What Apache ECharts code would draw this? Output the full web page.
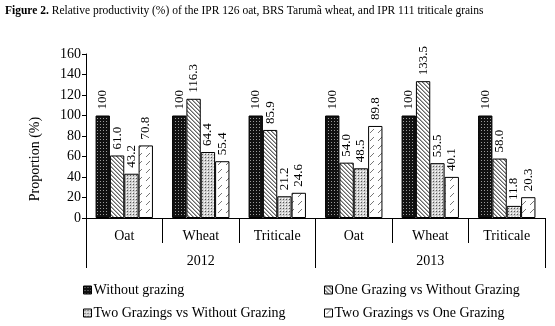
<!DOCTYPE html>
<html><head><meta charset="utf-8">
<script src="https://cdn.jsdelivr.net/npm/echarts@6/dist/echarts.min.js"></script>
<style>html,body{margin:0;padding:0;background:#fff}#c{width:555px;height:326px}</style>
</head><body><div id="c"></div>
<script>
const crops = ['Oat','Wheat','Triticale','Oat','Wheat','Triticale'];
const years = ['2012','2013'];
const seriesNames = ['Without grazing','One Grazing vs Without Grazing','Two Grazings vs Without Grazing','Two Grazings vs One Grazing'];
const withoutGrazing = [100,100,100,100,100,100];
const oneVsWithout = [61.0,116.3,85.9,54.0,133.5,58.0];
const twoVsWithout = [43.2,64.4,21.2,48.5,53.5,11.8];
const twoVsOne = [70.8,55.4,24.6,89.8,40.1,20.3];
const yTicks = [0,20,40,60,80,100,120,140,160];

function tile(w,h,draw){const c=document.createElement('canvas');c.width=w;c.height=h;const g=c.getContext('2d');draw(g);return c;}
const pat1 = tile(3,3,g=>{g.fillStyle='#111';g.fillRect(0,0,3,3);g.fillStyle='#9a9a9a';g.fillRect(1,1,1,1);});
const pat2 = tile(4,4,g=>{g.fillStyle='#fff';g.fillRect(0,0,4,4);g.fillStyle='#666';for(let i=0;i<4;i++)g.fillRect(i,i,1,1);g.fillStyle='#aaa';for(let i=0;i<4;i++)g.fillRect((i+1)%4,i,1,1);});
const pat3 = tile(3,3,g=>{g.fillStyle='#d0d0d0';g.fillRect(0,0,3,3);g.fillStyle='#555';g.fillRect(1,1,1,1);g.fillStyle='#fff';g.fillRect(0,0,1,1);});
const pat4 = tile(8,8,g=>{g.fillStyle='#fff';g.fillRect(0,0,8,8);g.fillStyle='#777';g.fillRect(5,1,1,1);g.fillRect(4,2,1,1);g.fillRect(3,3,1,1);g.fillRect(2,4,1,1);});
const pats=[pat1,pat2,pat3,pat4];
const datas=[withoutGrazing,oneVsWithout,twoVsWithout,twoVsOne];

const F='"Liberation Serif","Times New Roman",serif';
const chart = echarts.init(document.getElementById('c'));
const series = datas.map((d,i)=>({
  name: seriesNames[i], type:'bar', data:d, xAxisIndex:0,
  barGap:'0%', barCategoryGap:'25%',
  itemStyle:{color:{image:pats[i],repeat:'repeat'},borderColor:'#000',borderWidth:1},
  label:{show:true,position:'top',rotate:90,align:'left',verticalAlign:'middle',distance:6,
    fontFamily:F,fontSize:13,color:'#000',
    formatter:p=>p.value===100?'100':p.value.toFixed(1)}
}));
const legPos=[[83,283],[324,283],[83,306],[324,306]];
const legends = seriesNames.map((n,i)=>({
  left:legPos[i][0],top:legPos[i][1],padding:0,itemWidth:8,itemHeight:8,icon:'rect',
  selectedMode:false,data:[n],
  textStyle:{fontFamily:F,fontSize:14,color:'#000',padding:[0,0,0,-3]},
  itemStyle:{borderColor:'#000',borderWidth:1}
}));
chart.setOption({
  animation:false,
  title:{text:'{b|Figure 2.} Relative productivity (%) of the IPR 126 oat, BRS Tarumã wheat, and IPR 111 triticale grains',
    left:5,top:5,padding:0,textStyle:{fontFamily:F,fontSize:11.5,fontWeight:'normal',color:'#000',
    rich:{b:{fontFamily:F,fontSize:11.5,fontWeight:'bold',color:'#000'}}}},
  grid:{left:86,right:10,top:54,bottom:108},
  legend:legends,
  graphic:[{type:'text',x:35,y:159,rotation:Math.PI/2,
    style:{text:'Proportion (%)',font:'14px '+F,fill:'#000',align:'center',verticalAlign:'middle'}}],
  xAxis:[
    {type:'category',data:crops,position:'bottom',
     axisLine:{lineStyle:{color:'#000',width:1}},
     axisTick:{show:true,length:25,interval:0,lineStyle:{color:'#000'}},
     axisLabel:{fontFamily:F,fontSize:14,color:'#000',margin:11,interval:0}},
    {type:'category',data:years,position:'bottom',offset:25,
     axisLine:{show:false},
     axisTick:{show:true,length:25,interval:0,lineStyle:{color:'#000'}},
     axisLabel:{fontFamily:F,fontSize:14,color:'#000',margin:11,interval:0}}
  ],
  yAxis:{type:'value',min:0,max:160,interval:20,
    axisLine:{show:true,lineStyle:{color:'#000'}},
    axisTick:{show:true,length:4,lineStyle:{color:'#000'}},
    splitLine:{show:false},
    axisLabel:{fontFamily:F,fontSize:14,color:'#000',margin:5,
      formatter:v=>yTicks.includes(v)?String(v):''}},
  series
});
</script></body></html>
